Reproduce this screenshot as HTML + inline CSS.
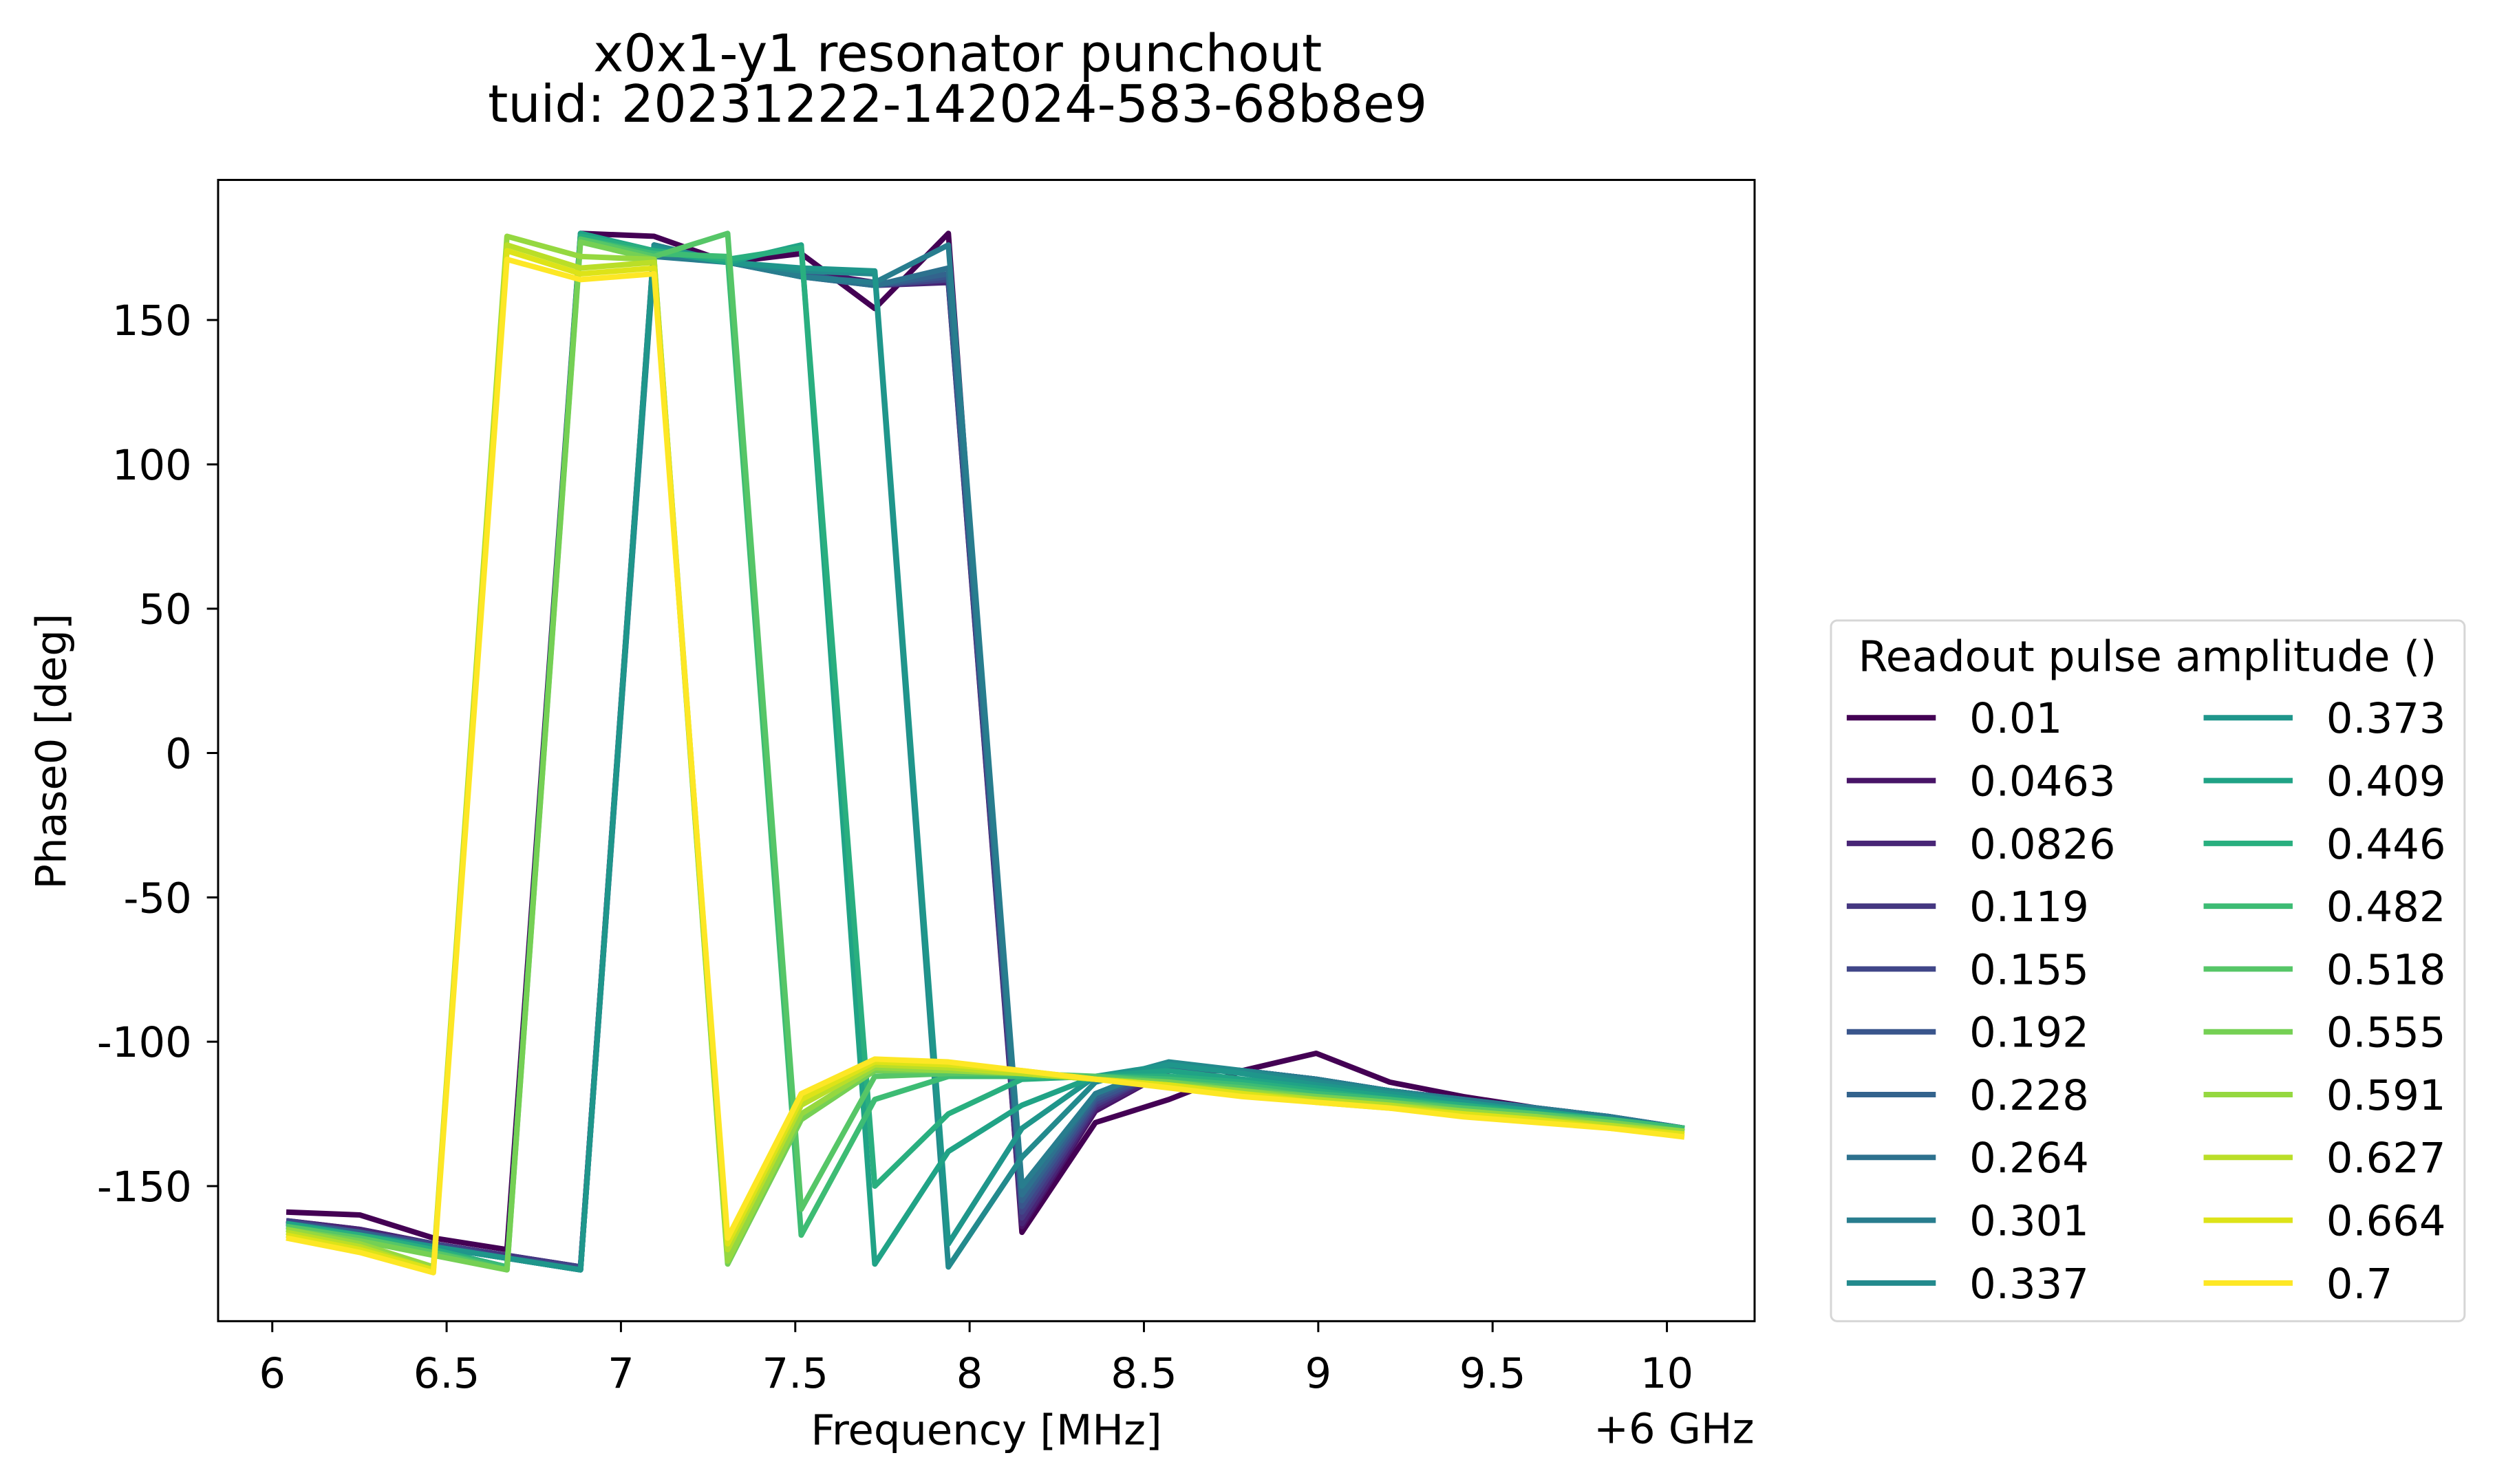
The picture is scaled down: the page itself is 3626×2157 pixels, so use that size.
<!DOCTYPE html>
<html><head><meta charset="utf-8"><style>
html,body{margin:0;padding:0;background:#fff;}
svg{display:block;font-family:"DejaVu Sans","Liberation Sans",sans-serif;}
</style></head><body>
<svg id="chart" width="3626" height="2157" viewBox="0 0 3626 2157" xmlns="http://www.w3.org/2000/svg">
<rect width="3626" height="2157" fill="#fff"/>
<g transform="scale(0.9955)">
<text x="1398" y="104" font-size="75" text-anchor="middle">x0x1-y1 resonator punchout</text>
<text x="1398" y="178" font-size="75" text-anchor="middle">tuid: 20231222-142024-583-68b8e9</text>
<g id="plot"></g>
<g id="xaxis"></g>
<g id="yaxis"></g>
<rect x="318.4" y="262.7" width="2243.1" height="1666.3" fill="none" stroke="#000" stroke-width="3"/>
<text x="1440" y="2109" font-size="61" text-anchor="middle">Frequency [MHz]</text>
<text x="2561" y="2107" font-size="61" text-anchor="end">+6 GHz</text>
<text transform="translate(96,1097) rotate(-90)" font-size="61" text-anchor="middle">Phase0 [deg]</text>
<g id="legend">
<rect x="2673" y="906" width="925" height="1023" rx="9" fill="#fff" stroke="#d6d6d6" stroke-width="3"/>
<text x="3135" y="980" font-size="62" text-anchor="middle">Readout pulse amplitude ()</text>
</g>
</g>
</svg>
<script>
const NS="http://www.w3.org/2000/svg";
const freqs=[6.04,6.251,6.462,6.673,6.884,7.095,7.306,7.517,7.728,7.939,8.15,8.361,8.572,8.783,8.994,9.205,9.416,9.627,9.838,10.05];
const amps=["0.01","0.0463","0.0826","0.119","0.155","0.192","0.228","0.264","0.301","0.337","0.373","0.409","0.446","0.482","0.518","0.555","0.591","0.627","0.664","0.7"];
const colors=["#440154","#481467","#482576","#453781","#404688","#39558c","#33638d","#2d718e","#287d8e","#238a8d","#1f968b","#20a386","#29af7f","#3dbc74","#56c667","#75d054","#95d840","#bade28","#dde318","#fde725"];
const s00=[-159,-160,-168,-172,180,179,170,173,154,180,-166,-128,-120,-110,-104,-114,-119,-123,-127,-130];
const s01=[-162,-165,-170,-174,-178,176,170,167,163,163,-164,-124,-110,-110,-113,-117,-120,-123,-126,-130];
const s02=[-162,-165,-170,-174,-178,175,170,166,162,163,-163,-123,-110,-110,-113,-117,-120,-123,-126,-130];
const s03=[-162,-166,-170,-174,-178,175,170,166,162,164,-161,-122,-109,-110,-113,-117,-120,-123,-126,-130];
const s04=[-162,-166,-170,-175,-178,174,170,166,162,164,-159,-121,-109,-110,-113,-117,-120,-124,-127,-130];
const s05=[-163,-166,-171,-175,-179,174,170,166,162,165,-157,-120,-109,-110,-113,-117,-121,-124,-127,-130];
const s06=[-163,-166,-171,-175,-179,173,170,165,162,166,-155,-119,-108,-110,-113,-117,-121,-124,-127,-131];
const s07=[-163,-167,-171,-175,-179,173,170,165,162,168,-153,-118,-108,-110,-113,-117,-121,-124,-127,-131];
const s08=[-163,-167,-171,-175,-179,172,170,165,163,176,-150,-118,-108,-110,-113,-117,-120,-123,-126,-130];
const s09=[-163,-167,-171,-175,-179,176,170,167,166,-178,-140,-114,-107,-110,-114,-117,-121,-124,-127,-130];
const s10=[-163,-167,-171,-175,-179,175,170,168,167,-170,-130,-112,-108,-111,-115,-118,-121,-124,-127,-130];
const s11=[-163,-167,-172,-178,180,174,170,176,-177,-138,-122,-112,-110,-113,-116,-119,-122,-124,-127,-130];
const s12=[-164,-167,-172,-178,179,174,171,175,-150,-125,-113,-112,-112,-114,-117,-120,-122,-125,-127,-130];
const s13=[-164,-168,-173,-178,178,173,172,-167,-120,-112,-112,-112,-113,-115,-118,-120,-123,-125,-127,-130];
const s14=[-164,-168,-173,-179,178,172,180,-158,-112,-111,-111,-112,-114,-116,-119,-121,-123,-125,-128,-131];
const s15=[-165,-169,-174,-179,177,171,-177,-127,-110,-110,-111,-113,-114,-117,-119,-121,-124,-126,-128,-131];
const s16=[-165,-170,-178,179,172,171,-176,-125,-109,-110,-111,-113,-115,-117,-120,-122,-124,-126,-129,-131];
const s17=[-166,-171,-179,176,168,170,-172,-122,-108,-109,-111,-113,-115,-118,-120,-122,-125,-127,-129,-132];
const s18=[-167,-172,-179,174,166,168,-170,-120,-107,-108,-110,-113,-115,-118,-121,-123,-125,-127,-130,-132];
const s19=[-168,-173,-180,171,164,166,-168,-118,-106,-107,-110,-113,-116,-119,-121,-123,-126,-128,-130,-133];
const series=[s00,s01,s02,s03,s04,s05,s06,s07,s08,s09,s10,s11,s12,s13,s14,s15,s16,s17,s18,s19];
const xTicks=[6,6.5,7,7.5,8,8.5,9,9.5,10];
const xTickLabels=["6","6.5","7","7.5","8","8.5","9","9.5","10"];
const yTicks=[150,100,50,0,-50,-100,-150];
const yTickLabels=["150","100","50","0","-50","-100","-150"];

const X=v=>397.5+(v-6)*509;
const Y=v=>1099.5-v*4.215;
const plot=document.getElementById('plot');
series.forEach((s,k)=>{
  const p=document.createElementNS(NS,'polyline');
  p.setAttribute('points',s.map((v,i)=>X(freqs[i]).toFixed(1)+','+Y(v).toFixed(1)).join(' '));
  p.setAttribute('fill','none');p.setAttribute('stroke',colors[k]);
  p.setAttribute('stroke-width','8');p.setAttribute('stroke-linejoin','round');
  
  
  plot.appendChild(p);
});
const xa=document.getElementById('xaxis');
xTicks.forEach((t,i)=>{
  const l=document.createElementNS(NS,'line');
  l.setAttribute('x1',X(t));l.setAttribute('x2',X(t));l.setAttribute('y1',1929);l.setAttribute('y2',1945);
  l.setAttribute('stroke','#000');l.setAttribute('stroke-width','3');
  
  
  xa.appendChild(l);
  const tx=document.createElementNS(NS,'text');
  tx.setAttribute('x',X(t));tx.setAttribute('y',2026);tx.setAttribute('font-size','61');tx.setAttribute('text-anchor','middle');
  tx.textContent=xTickLabels[i];
  
  
  xa.appendChild(tx);
});
const ya=document.getElementById('yaxis');
yTicks.forEach((t,i)=>{
  const l=document.createElementNS(NS,'line');
  l.setAttribute('x1',302);l.setAttribute('x2',318.4);l.setAttribute('y1',Y(t));l.setAttribute('y2',Y(t));
  l.setAttribute('stroke','#000');l.setAttribute('stroke-width','3');
  
  
  ya.appendChild(l);
  const tx=document.createElementNS(NS,'text');
  tx.setAttribute('x',280);tx.setAttribute('y',Y(t)+22);tx.setAttribute('font-size','61');tx.setAttribute('text-anchor','end');
  tx.textContent=yTickLabels[i];
  
  
  ya.appendChild(tx);
});
const lg=document.getElementById('legend');
amps.forEach((a,k)=>{
  const col=Math.floor(k/10), row=k%10;
  const y=1048+row*91.7;
  const lx=col?3217:2696, tx0=col?3396:2875;
  const l=document.createElementNS(NS,'line');
  l.setAttribute('x1',lx);l.setAttribute('x2',lx+130);l.setAttribute('y1',y);l.setAttribute('y2',y);
  l.setAttribute('stroke',colors[k]);l.setAttribute('stroke-width','8');
  
  
  lg.appendChild(l);
  const t=document.createElementNS(NS,'text');
  t.setAttribute('x',tx0);t.setAttribute('y',y+22);t.setAttribute('font-size','61');
  t.textContent=a;
  
  
  lg.appendChild(t);
});
</script>
</body></html>
